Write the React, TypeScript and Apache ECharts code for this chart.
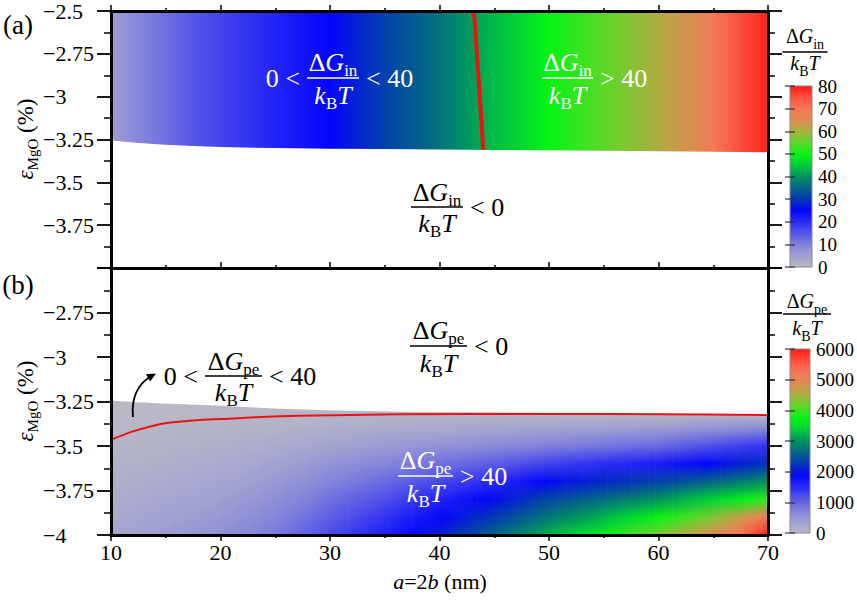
import React, { useEffect, useRef } from "react";
import * as echarts from "echarts";

const SERIF = "Liberation Serif";

// Shared colour scale, evenly spaced from a bar's minimum to its maximum
const colorRamp = [
  "#b9b9c5", "#a0a0d2", "#8080dc", "#5656e8", "#2a2af6", "#0505fa", "#0438b4", "#046488",
  "#02925e", "#00cc3c", "#06f414", "#5cd828", "#aab040", "#de8c50", "#f8765a", "#ff5040", "#ff1a14",
];

// Axis ranges
const xRange = [10, 70];
const yRange = [-4, -2.5];

// (a) ΔG_in / k_BT across a = 2b, and the lower edge of the ΔG_in > 0 region
const inX = [10, 12.5, 15, 17.5, 20, 25, 30, 35, 40, 45, 50, 55, 60, 65, 70];
const inValue = [5, 9, 12, 15, 17, 21, 25, 31, 36.5, 43.5, 50, 55, 60.5, 69, 79];
const inEdge = [-3.256, -3.27, -3.28, -3.288, -3.294, -3.3, -3.304, -3.306, -3.308, -3.311, -3.313, -3.316, -3.318, -3.321, -3.325];
const inScaleMax = 80;
// ΔG_in / k_BT = 40 contour
const inContourX = [43.15, 44.0];
const inContourY = [-2.5, -3.31];

// (b) ΔG_pe / k_BT on columns of a = 2b (rows: strain), and the upper edge of the ΔG_pe > 0 region
const peX = [10, 12.5, 15, 17.5, 20, 22.5, 25, 27.5, 30, 32.5, 35, 37.5, 40, 42.5, 45, 47.5, 50, 52.5, 55, 57.5, 60, 62.5, 65, 67.5, 70];
const peRows = [-3.3, -3.4, -3.5, -3.6, -3.7, -3.8, -3.9, -4.0];
const peTop = [-3.245, -3.255, -3.262, -3.268, -3.274, -3.282, -3.29, -3.295, -3.3, -3.303, -3.306, -3.309, -3.31, -3.311, -3.312, -3.313, -3.314, -3.315, -3.316, -3.318, -3.319, -3.321, -3.322, -3.324, -3.325];
const peValue = [
  [10, 30, 60, 100, 145, 195, 250, 300],
  [12, 40, 80, 125, 180, 240, 300, 360],
  [15, 50, 100, 155, 215, 285, 355, 420],
  [18, 62, 122, 188, 258, 335, 410, 485],
  [20, 75, 145, 225, 305, 390, 475, 560],
  [22, 90, 175, 270, 370, 470, 570, 670],
  [25, 110, 220, 340, 460, 580, 695, 810],
  [28, 130, 270, 420, 570, 715, 860, 1000],
  [30, 155, 330, 520, 710, 890, 1060, 1220],
  [32, 180, 385, 605, 825, 1035, 1235, 1420],
  [35, 205, 440, 690, 945, 1190, 1410, 1620],
  [38, 228, 490, 795, 1095, 1385, 1640, 1850],
  [40, 250, 540, 900, 1250, 1580, 1850, 2050],
  [40, 270, 585, 985, 1385, 1755, 2065, 2335],
  [40, 290, 630, 1070, 1520, 1930, 2280, 2620],
  [40, 310, 690, 1180, 1710, 2150, 2530, 2900],
  [40, 330, 750, 1300, 1920, 2380, 2800, 3200],
  [40, 350, 800, 1390, 2030, 2540, 3000, 3450],
  [40, 370, 850, 1480, 2130, 2700, 3220, 3700],
  [40, 395, 900, 1565, 2230, 2850, 3480, 4000],
  [40, 420, 950, 1650, 2330, 3000, 3750, 4250],
  [40, 470, 1080, 1780, 2480, 3220, 4000, 4600],
  [40, 520, 1200, 1920, 2640, 3450, 4300, 4900],
  [40, 580, 1320, 2060, 2810, 3690, 4700, 5300],
  [40, 650, 1450, 2200, 3000, 3950, 5200, 6000],
];
const peScaleMax = 6000;
// ΔG_pe / k_BT = 40 contour
const peContourX = [10, 12, 13.6, 15.1, 18.1, 21.2, 24.2, 27.3, 36.4, 50, 60, 70];
const peContourY = [-3.465, -3.418, -3.39, -3.371, -3.354, -3.345, -3.335, -3.33, -3.322, -3.32, -3.322, -3.326];

const rampRgb = colorRamp.map((h) => {
  const n = parseInt(h.slice(1), 16);
  return [(n >> 16) & 255, (n >> 8) & 255, n & 255];
});

function rampColor(t: number): string {
  const c = Math.max(0, Math.min(1, t));
  const s = c * (rampRgb.length - 1);
  const i = Math.min(Math.floor(s), rampRgb.length - 2);
  const f = s - i;
  const a = rampRgb[i];
  const b = rampRgb[i + 1];
  const m = (k: number) => Math.round(a[k] + (b[k] - a[k]) * f);
  return `rgb(${m(0)},${m(1)},${m(2)})`;
}

function richStyles(size: number, sub: number, color: string) {
  const lh = sub + 16;
  return {
    r: { fontFamily: SERIF, fontSize: size, lineHeight: lh, fill: color, color },
    i: { fontFamily: SERIF, fontSize: size, fontStyle: "italic", lineHeight: lh, fill: color, color },
    s: { fontFamily: SERIF, fontSize: sub, verticalAlign: "bottom", fill: color, color },
  };
}

function richText(text: string, x: number, y: number, size: number, sub: number, color: string, align = "center", rotation = 0) {
  return {
    type: "text",
    z: 40,
    silent: true,
    x,
    y,
    rotation,
    style: {
      text,
      x: 0,
      y: 0,
      align,
      textAlign: align,
      verticalAlign: "middle",
      textVerticalAlign: "middle",
      fontFamily: SERIF,
      rich: richStyles(size, sub, color),
      fill: color,
    },
  };
}

function plainText(text: string, x: number, y: number, size: number, color: string, align: string) {
  return {
    type: "text",
    z: 40,
    silent: true,
    style: {
      text,
      x,
      y,
      align,
      textAlign: align,
      verticalAlign: "middle",
      textVerticalAlign: "middle",
      fontFamily: SERIF,
      fontSize: size,
      fill: color,
    },
  };
}

type Frac = {
  cx: number; y: number; w: number; num: string; den: string; color: string;
  size: number; sub: number; up: number; down: number; left?: string; right?: string;
};

function fraction(f: Frac): any[] {
  const els: any[] = [
    richText(f.num, f.cx, f.y - f.up, f.size, f.sub, f.color),
    {
      type: "line", z: 40, silent: true,
      shape: { x1: f.cx - f.w / 2, y1: f.y, x2: f.cx + f.w / 2, y2: f.y },
      style: { stroke: f.color, lineWidth: 1.5 },
    },
    richText(f.den, f.cx, f.y + f.down, f.size, f.sub, f.color),
  ];
  if (f.left) els.push(plainText(f.left, f.cx - f.w / 2 - 7, f.y, f.size, f.color, "right"));
  if (f.right) els.push(plainText(f.right, f.cx + f.w / 2 + 7, f.y, f.size, f.color, "left"));
  return els;
}

const NUM_IN = "{r|Δ}{i|G}{s|in}";
const NUM_PE = "{r|Δ}{i|G}{s|pe}";
const DEN = "{i|k}{s|B}{i|T}";

const frameLine = { show: true, onZero: false, lineStyle: { color: "#000", width: 3 } };
const labelStyle = { fontFamily: SERIF, fontSize: 22, color: "#000" };
const minus = (v: number) => (v < 0 ? "\u2212" + Math.abs(v) : String(v));

function xAxis(gridIndex: number, position: string, extra: any = {}) {
  return {
    type: "value", gridIndex, position, min: xRange[0], max: xRange[1], interval: 10, z: 5,
    axisLine: frameLine,
    splitLine: { show: false },
    axisTick: { show: true, length: 6, lineStyle: { color: "#000", width: 1.5 } },
    minorTick: { show: true, splitNumber: 2, length: 3, lineStyle: { color: "#000", width: 1.5 } },
    axisLabel: { show: false },
    ...extra,
  };
}

function yAxis(gridIndex: number, position: string, extra: any = {}) {
  return {
    type: "value", gridIndex, position, min: yRange[0], max: yRange[1], interval: 0.25, z: 5,
    axisLine: frameLine,
    splitLine: { show: false },
    axisTick: { show: true, length: 14, lineStyle: { color: "#000", width: 1.8 } },
    minorTick: { show: true, splitNumber: 2, length: 7, lineStyle: { color: "#000", width: 1.5 } },
    axisLabel: { show: false },
    ...extra,
  };
}

function barAxis(gridIndex: number, position: string, max: number, interval: number, labels: boolean) {
  return {
    type: "value", gridIndex, position, min: 0, max, interval, z: 6,
    axisLine: { show: false },
    splitLine: { show: false },
    axisTick: { show: true, inside: true, length: 5, lineStyle: { color: "rgba(40,40,60,0.75)", width: 1.5 } },
    axisLabel: labels
      ? { show: true, margin: 6, fontFamily: SERIF, fontSize: 19, color: "#000", formatter: (v: number) => String(v) }
      : { show: false },
  };
}

function colorBarSeries(index: number, max: number) {
  const n = colorRamp.length;
  return {
    type: "custom", xAxisIndex: index, yAxisIndex: index === 4 ? 4 : 6, z: 3, silent: true,
    data: [[0, 0]],
    renderItem: (_p: any, api: any) => {
      const a = api.coord([0, max]);
      const b = api.coord([1, 0]);
      return {
        type: "rect",
        shape: { x: a[0], y: a[1], width: b[0] - a[0], height: b[1] - a[1] },
        style: {
          fill: {
            type: "linear", x: 0, y: 0, x2: 0, y2: 1, global: false,
            colorStops: colorRamp.map((_, k) => ({ offset: k / (n - 1), color: colorRamp[n - 1 - k] })),
          },
          stroke: "#8a8a8a",
          lineWidth: 1,
        },
      };
    },
  };
}

// thin strips drawn between two neighbouring columns of (b)
const STRIPS = 8;

const yLabel = (extra: any) => ({
  show: true, margin: 68, align: "left", formatter: minus, ...labelStyle, ...extra,
});

function buildOption(): any {
  const graphics: any[] = [
    plainText("(a)", 18, 25, 27, "#000", "center"),
    plainText("(b)", 18, 285, 27, "#000", "center"),
    richText("{i|ε}{s|MgO}{r| (%)}", 25, 139, 23, 15, "#000", "center", Math.PI / 2),
    richText("{i|ε}{s|MgO}{r| (%)}", 25, 401, 23, 15, "#000", "center", Math.PI / 2),
    richText("{i|a}{r|=2}{i|b}{r| (nm)}", 440, 581, 22, 15, "#000", "center"),
    ...fraction({ cx: 333, y: 78, w: 52, num: NUM_IN, den: DEN, color: "#fff", size: 26, sub: 17, up: 16, down: 17, left: "0 <", right: "< 40" }),
    ...fraction({ cx: 567.5, y: 78, w: 51, num: NUM_IN, den: DEN, color: "#fff", size: 26, sub: 17, up: 16, down: 17, right: "> 40" }),
    ...fraction({ cx: 437, y: 207, w: 52, num: NUM_IN, den: DEN, color: "#000", size: 26, sub: 17, up: 15, down: 16, right: "< 0" }),
    ...fraction({ cx: 438.5, y: 346, w: 57, num: NUM_PE, den: DEN, color: "#000", size: 26, sub: 17, up: 16, down: 17, right: "< 0" }),
    ...fraction({ cx: 233.5, y: 376, w: 57, num: NUM_PE, den: DEN, color: "#000", size: 26, sub: 17, up: 15, down: 16, left: "0 <", right: "< 40" }),
    ...fraction({ cx: 425.5, y: 476, w: 55, num: NUM_PE, den: DEN, color: "#fff", size: 26, sub: 17, up: 16, down: 17, right: "> 40" }),
    ...fraction({ cx: 805, y: 52, w: 45, num: NUM_IN, den: DEN, color: "#000", size: 20, sub: 14, up: 16, down: 11 }),
    ...fraction({ cx: 807, y: 314, w: 48, num: NUM_PE, den: DEN, color: "#000", size: 20, sub: 14, up: 13, down: 14 }),
    {
      type: "bezierCurve", z: 40, silent: true,
      shape: { x1: 133, y1: 417, cpx1: 131, cpy1: 398, cpx2: 138, cpy2: 384, x2: 150, y2: 377 },
      style: { stroke: "#000", lineWidth: 1.8, fill: "none" },
    },
    {
      type: "polygon", z: 40, silent: true,
      shape: { points: [[156, 373.5], [150.2, 381.5], [146, 374.2]] },
      style: { fill: "#000" },
    },
  ];

  return {
    animation: false,
    backgroundColor: "#fff",
    textStyle: { fontFamily: SERIF },
    grid: [
      { left: 111, top: 10, width: 657, height: 258 },
      { left: 111, top: 268, width: 657, height: 267 },
      { left: 790, top: 86, width: 22, height: 181 },
      { left: 790, top: 349, width: 22, height: 184 },
    ],
    xAxis: [
      xAxis(0, "top"),
      xAxis(0, "bottom", { axisTick: { show: false }, minorTick: { show: false } }),
      xAxis(1, "top"),
      xAxis(1, "bottom", { axisLabel: { show: true, margin: 6, ...labelStyle } }),
      { type: "value", gridIndex: 2, min: 0, max: 1, show: false },
      { type: "value", gridIndex: 3, min: 0, max: 1, show: false },
    ],
    yAxis: [
      yAxis(0, "left", { axisLabel: yLabel({ showMinLabel: false }) }),
      yAxis(0, "right"),
      yAxis(1, "left", { axisLabel: yLabel({ showMaxLabel: false }) }),
      yAxis(1, "right"),
      barAxis(2, "right", inScaleMax, 10, true),
      barAxis(2, "left", inScaleMax, 10, false),
      barAxis(3, "right", peScaleMax, 1000, true),
      barAxis(3, "left", peScaleMax, 1000, false),
    ],
    graphic: graphics,
    series: [
      {
        // (a) coloured band between the top of the frame and the lower edge
        type: "custom", xAxisIndex: 1, yAxisIndex: 0, z: 2, silent: true,
        data: [[inX[0], inEdge[0]]],
        renderItem: (_p: any, api: any) => {
          const top = inX.map((x) => api.coord([x, yRange[1]]));
          const bottom = inX.map((x, i) => api.coord([x, inEdge[i]])).reverse();
          const x0 = top[0][0];
          const x1 = top[top.length - 1][0];
          return {
            type: "polygon",
            shape: { points: top.concat(bottom) },
            style: {
              fill: {
                type: "linear", x: 0, y: 0, x2: 1, y2: 0, global: false,
                colorStops: inX.map((_, i) => ({
                  offset: (top[i][0] - x0) / (x1 - x0),
                  color: rampColor(inValue[i] / inScaleMax),
                })),
              },
            },
          };
        },
      },
      {
        type: "line", xAxisIndex: 1, yAxisIndex: 0, z: 3, silent: true,
        data: inContourX.map((x, i) => [x, inContourY[i]]),
        showSymbol: false,
        lineStyle: { color: "#ee1111", width: 4 },
      },
      {
        // (b) shaded between neighbouring a = 2b columns, graded down the strain rows
        type: "custom", xAxisIndex: 3, yAxisIndex: 2, z: 2, silent: true,
        data: peX.slice(0, -1).map((x, i) => [x, peTop[i]]),
        renderItem: (p: any, api: any) => {
          const i = p.dataIndex;
          const children: any[] = [];
          for (let k = 0; k < STRIPS; k++) {
            const t = (k + 0.5) / STRIPS;
            const xl = peX[i] + ((peX[i + 1] - peX[i]) * k) / STRIPS;
            const xr = peX[i] + ((peX[i + 1] - peX[i]) * (k + 1)) / STRIPS;
            const topY = peTop[i] * (1 - t) + peTop[i + 1] * t;
            const vals = peValue[i].map((v, j) => v * (1 - t) + peValue[i + 1][j] * t);
            const p0 = api.coord([xl, topY]);
            const p1 = api.coord([xr, yRange[0]]);
            const h = p1[1] - p0[1];
            const stops: any[] = [{ offset: 0, color: rampColor(vals[0] / peScaleMax) }];
            peRows.forEach((y, j) => {
              const off = (api.coord([xl, y])[1] - p0[1]) / h;
              if (off > 0 && off <= 1) stops.push({ offset: off, color: rampColor(vals[j] / peScaleMax) });
            });
            children.push({
              type: "rect",
              shape: { x: p0[0], y: p0[1], width: p1[0] - p0[0] + 0.7, height: h },
              style: { fill: { type: "linear", x: 0, y: 0, x2: 0, y2: 1, global: false, colorStops: stops } },
            });
          }
          return { type: "group", children };
        },
      },
      {
        type: "line", xAxisIndex: 3, yAxisIndex: 2, z: 3, silent: true,
        data: peContourX.map((x, i) => [x, peContourY[i]]),
        showSymbol: false,
        smooth: 0.3,
        lineStyle: { color: "#ee1111", width: 2 },
      },
      colorBarSeries(4, inScaleMax),
      colorBarSeries(5, peScaleMax),
    ],
  };
}

export default function App() {
  const ref = useRef<HTMLDivElement>(null);
  useEffect(() => {
    if (!ref.current) return;
    const chart = echarts.init(ref.current, undefined, { renderer: "svg" });
    chart.setOption(buildOption());
    return () => chart.dispose();
  }, []);
  return (
    <div
      ref={ref}
      style={{ position: "fixed", left: 0, top: 0, width: 857, height: 603, background: "#fff" }}
    />
  );
}
